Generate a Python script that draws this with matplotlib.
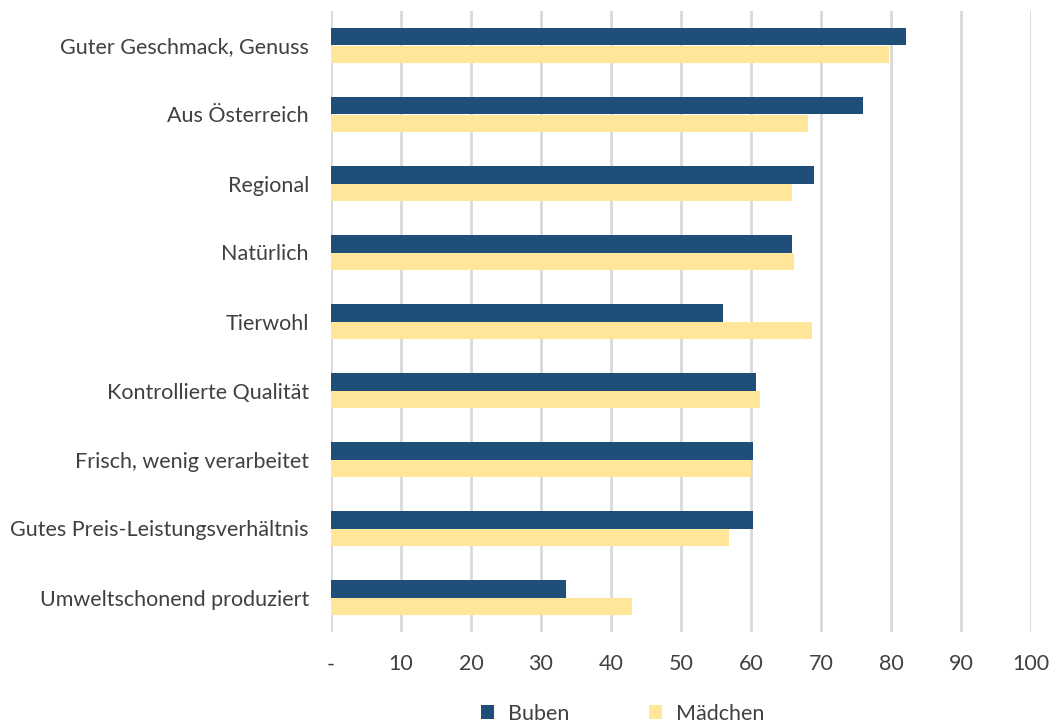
import numpy as np
import matplotlib.pyplot as plt

categories = ["Guter Geschmack, Genuss", "Aus Österreich", "Regional", "Natürlich",
              "Tierwohl", "Kontrollierte Qualität", "Frisch, wenig verarbeitet",
              "Gutes Preis-Leistungsverhältnis", "Umweltschonend produziert"]
buben = [82.1, 76.0, 69.0, 65.8, 56.0, 60.7, 60.3, 60.3, 33.5]
maedchen = [79.7, 68.2, 65.9, 66.1, 68.7, 61.3, 60.0, 56.9, 43.0]
xticks = [0, 10, 20, 30, 40, 50, 60, 70, 80, 90, 100]
xticklabels = ["-", "10", "20", "30", "40", "50", "60", "70", "80", "90", "100"]

plt.rcParams['font.family'] = ['Lato', 'DejaVu Sans']
text_col = "#404040"
fs = 15.5

fig = plt.figure(figsize=(10.55, 7.27), dpi=100)
ax = fig.add_axes([331/1055, 1-632/727, 700/1055, 621/727])

y = np.arange(len(categories))
h = 0.26
ax.barh(y - h/2, buben, h, color="#1F4E79", label="Buben", zorder=3)
ax.barh(y + h/2, maedchen, h, color="#FFE699", label="Mädchen", zorder=3)

ax.set_ylim(len(categories) - 0.5, -0.5)
ax.set_xlim(0, 100)
ax.set_yticks(y)
ax.set_yticklabels(categories, fontsize=fs, color=text_col)
ax.set_xticks(xticks)
ax.set_xticklabels(xticklabels, fontsize=fs, color=text_col)
ax.tick_params(length=0)
ax.tick_params(axis='x', pad=16)
ax.tick_params(axis='y', pad=16)
ax.grid(axis='x', color="#D9D9D9", linewidth=2, zorder=0)
for s in ax.spines.values():
    s.set_visible(False)

fig.legend(loc="center", bbox_to_anchor=(0.59, 0.018), ncol=2, frameon=False,
           fontsize=fs, handlelength=0.6, handleheight=0.6, handletextpad=0.65,
           columnspacing=3.7, labelcolor=text_col)

fig.savefig("out.png", dpi=100)
